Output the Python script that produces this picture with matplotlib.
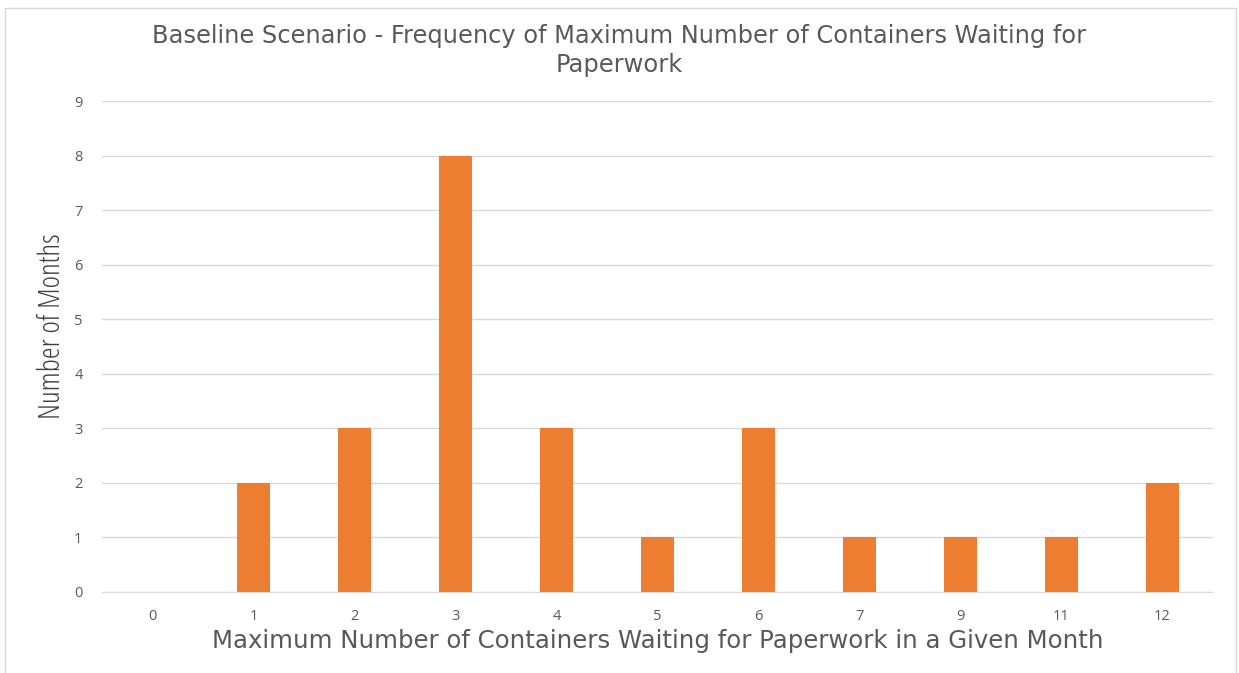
import matplotlib.pyplot as plt
from matplotlib.patches import Rectangle

categories = ["0", "1", "2", "3", "4", "5", "6", "7", "9", "11", "12"]
months = [0, 2, 3, 8, 3, 1, 3, 1, 1, 1, 2]

plt.rcParams["font.family"] = ["Open Sans", "DejaVu Sans"]
gray = "#595959"

fig = plt.figure(figsize=(12.39, 6.73), dpi=100)
ax = fig.add_axes([0.0823, 0.1204, 0.8967, 0.7295])

x = range(len(categories))
ax.bar(x, months, width=0.32, color="#ED7D31", zorder=3)

ax.set_xlim(-0.5, len(categories) - 0.5)
ax.set_ylim(0, 9)
ax.set_yticks(range(0, 10))
ax.set_xticks(list(x))
ax.set_xticklabels(categories)
ax.grid(axis="y", color="#d9d9d9", linewidth=1, zorder=0)
for s in ["top", "right", "left"]:
    ax.spines[s].set_visible(False)
ax.spines["bottom"].set_color("#d9d9d9")
ax.tick_params(axis="both", length=0, labelsize=10.5, labelcolor=gray)
ax.tick_params(axis="x", pad=12)
ax.tick_params(axis="y", pad=14)

ax.set_xlabel("Maximum Number of Containers Waiting for Paperwork in a Given Month",
              fontsize=17.6, color=gray, labelpad=4, family="DejaVu Sans")
fig.text(0.042, 0.516, "Number of Months", rotation=90, fontsize=21.5, color="#404040",
         ha="center", va="center", fontstretch="condensed")

fig.text(0.5, 0.946, "Baseline Scenario - Frequency of Maximum Number of Containers Waiting for",
         ha="center", va="center", fontsize=17.4, color=gray, family="DejaVu Sans")
fig.text(0.5, 0.904, "Paperwork", ha="center", va="center", fontsize=17.4, color=gray,
         family="DejaVu Sans")

fig.patches.append(Rectangle((5 / 1239, -0.01), 1231 / 1239, 1 - 8 / 673 + 0.01,
                             transform=fig.transFigure, fill=False,
                             edgecolor="#d9d9d9", linewidth=1))

plt.savefig("out.png")
plt.close()
